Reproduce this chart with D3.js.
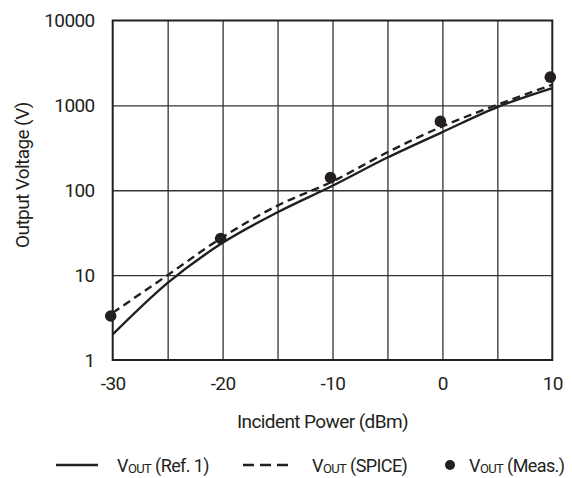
<!DOCTYPE html>
<html>
<head>
<meta charset="utf-8">
<script src="https://cdn.jsdelivr.net/npm/d3@7"></script>
<style>
  body { margin: 0; background: #fff; }
  svg text { font-family: Roboto, 'Liberation Sans', sans-serif; fill: #231f20; letter-spacing: -0.6px; }
</style>
</head>
<body>
<div id="chart"></div>
<script>
// ── DATA ─────────────────────────────────────────────────────────────────────
const powerDbm   = [-30, -25, -20, -15, -10, -5, 0, 5, 10];
const vRef1      = [2.0, 8.1, 24, 55, 113, 243, 485, 955, 1600];
const vSpice     = [3.6, 10, 28, 66, 127, 280, 566, 1018, 1750];
const measDbm    = [-30, -20, -10, 0, 10];
const vMeas      = [3.3, 27, 141, 647, 2150];
const xTicks     = [-30, -20, -10, 0, 10];
const xGrid      = [-25, -20, -15, -10, -5, 0, 5];
const yTicks     = [1, 10, 100, 1000, 10000];

// ── DIMENSIONS ───────────────────────────────────────────────────────────────
const W = 572, H = 478;
const margin = { top: 20.5, right: 19.7, bottom: 118, left: 112.7 };
const width  = W - margin.left - margin.right;
const height = H - margin.top - margin.bottom;
const ink = '#231f20';

const svg = d3.select('#chart').append('svg')
  .attr('width', W).attr('height', H);

const g = svg.append('g')
  .attr('transform', `translate(${margin.left},${margin.top})`);

// ── SCALES ───────────────────────────────────────────────────────────────────
const x = d3.scaleLinear().domain([-30, 10]).range([0, width]);
const y = d3.scaleLog().domain([1, 10000]).range([height, 0]);

// ── GRID ─────────────────────────────────────────────────────────────────────
g.append('g')
  .attr('transform', `translate(0,${height})`)
  .call(d3.axisBottom(x).tickValues(xGrid).tickSize(-height).tickFormat(''))
  .call(a => a.select('.domain').remove())
  .call(a => a.selectAll('line').attr('stroke', '#333').attr('stroke-width', 1.3));

g.append('g')
  .call(d3.axisLeft(y).tickValues([10, 100, 1000]).tickSize(-width).tickFormat(''))
  .call(a => a.select('.domain').remove())
  .call(a => a.selectAll('line').attr('stroke', '#333').attr('stroke-width', 1.3));

// Plot frame
g.append('rect')
  .attr('width', width).attr('height', height)
  .attr('fill', 'none').attr('stroke', ink).attr('stroke-width', 2);

// ── TICK LABELS ──────────────────────────────────────────────────────────────
g.append('g')
  .attr('transform', `translate(0,${height})`)
  .call(d3.axisBottom(x).tickValues(xTicks).tickSize(0).tickPadding(17).tickFormat(d => String(d)))
  .call(a => a.select('.domain').remove())
  .call(a => a.selectAll('text').attr('font-size', 19));

g.append('g')
  .call(d3.axisLeft(y).tickValues(yTicks).tickSize(0).tickPadding(18).tickFormat(d => String(d)))
  .call(a => a.select('.domain').remove())
  .call(a => a.selectAll('text').attr('font-size', 19));

svg.selectAll('.tick text').attr('fill', ink);

// ── AXIS TITLES ──────────────────────────────────────────────────────────────
svg.append('text')
  .attr('x', margin.left + width / 2 - 10)
  .attr('y', 428)
  .attr('text-anchor', 'middle')
  .attr('font-size', 19)
  .text('Incident Power (dBm)');

svg.append('text')
  .attr('transform', `translate(29,175) rotate(-90)`)
  .attr('text-anchor', 'middle')
  .attr('font-size', 19)
  .text('Output Voltage (V)');

// ── LINES ────────────────────────────────────────────────────────────────────
const line = d3.line()
  .x(d => x(d[0]))
  .y(d => y(d[1]))
  .curve(d3.curveMonotoneX);

g.append('path')
  .datum(d3.zip(powerDbm, vRef1))
  .attr('d', line)
  .attr('fill', 'none').attr('stroke', ink).attr('stroke-width', 2.4);

g.append('path')
  .datum(d3.zip(powerDbm, vSpice))
  .attr('d', line)
  .attr('fill', 'none').attr('stroke', ink).attr('stroke-width', 2.4)
  .attr('stroke-dasharray', '8,5');

g.selectAll('.meas')
  .data(d3.zip(measDbm, vMeas))
  .join('circle')
    .attr('class', 'meas')
    .attr('cx', d => x(d[0]) - 2)
    .attr('cy', d => y(d[1]))
    .attr('r', 5.8)
    .attr('fill', ink);

// ── LEGEND ───────────────────────────────────────────────────────────────────
const legY = 465;
const leg = svg.append('g');

leg.append('line')
  .attr('x1', 56).attr('x2', 98).attr('y1', legY).attr('y2', legY)
  .attr('stroke', ink).attr('stroke-width', 2.4);

leg.append('line')
  .attr('x1', 243).attr('x2', 288).attr('y1', legY).attr('y2', legY)
  .attr('stroke', ink).attr('stroke-width', 2.4)
  .attr('stroke-dasharray', '11,6');

leg.append('circle')
  .attr('cx', 450).attr('cy', legY).attr('r', 5)
  .attr('fill', ink);

const legendItems = [
  { x: 117, label: ' (Ref. 1)' },
  { x: 312, label: ' (SPICE)' },
  { x: 469, label: ' (Meas.)' }
];

legendItems.forEach(item => {
  const t = leg.append('text')
    .attr('x', item.x).attr('y', legY + 7)
    .attr('font-size', 18);
  t.append('tspan').text('V');
  t.append('tspan').attr('font-size', 13).attr('dy', 1).text('OUT');
  t.append('tspan').attr('dy', -1).text(item.label);
});
</script>
</body>
</html>
